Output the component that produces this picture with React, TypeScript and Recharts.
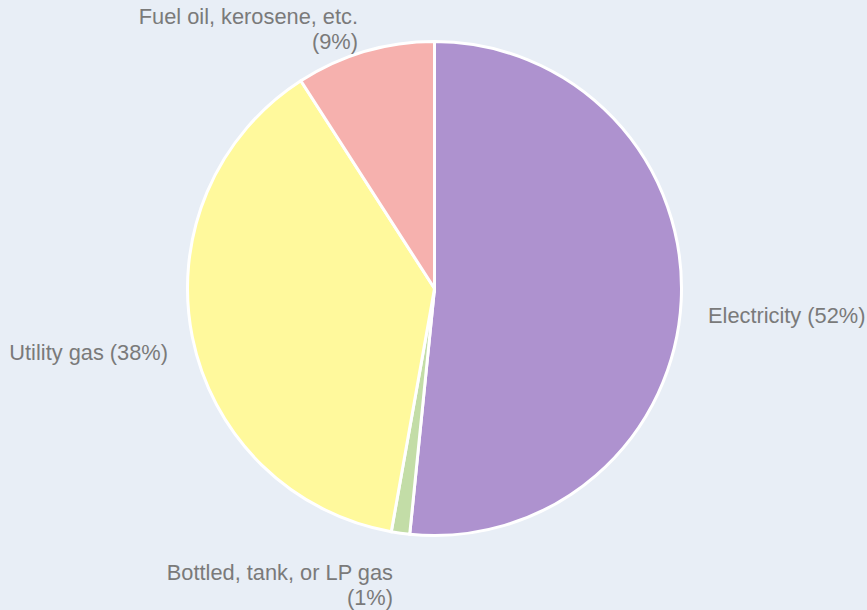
import React from 'react'
import { Cell, Pie, PieChart } from 'recharts'

// heating fuel shares, clockwise from 12 o'clock
const fuelNames = ['Electricity', 'Bottled, tank, or LP gas', 'Utility gas', 'Fuel oil, kerosene, etc.']
const fuelShares = [51.6, 1.2, 38.1, 9.1]
const fuelColors = ['#ae92cf', '#c3dda7', '#fff99c', '#f6b1ae']

// label lines as shown in the picture
const labelLines = [
  ['Electricity (52%)'],
  ['Bottled, tank, or LP gas', '(1%)'],
  ['Utility gas (38%)'],
  ['Fuel oil, kerosene, etc.', '(9%)'],
]

// label anchor, relative to pie center
const labelLayout = [
  { dx: 273.5, dy: 26.5, anchor: 'start' },
  { dx: -41.5, dy: 283, anchor: 'end' },
  { dx: -266.5, dy: 63.5, anchor: 'end' },
  { dx: -76.5, dy: -272.5, anchor: 'end' },
]

const data = fuelNames.map((name, i) => ({ name, value: fuelShares[i] }))

function renderLabel(props: any) {
  const { cx, cy, index } = props
  const layout = labelLayout[index]
  const lines = labelLines[index]
  return (
    <text
      x={cx + layout.dx}
      y={cy + layout.dy}
      textAnchor={layout.anchor}
      dominantBaseline="central"
      fill="#7a7a7a"
      fontSize={21.8}
      fontFamily="'Liberation Sans', Arial, sans-serif"
    >
      {lines.map((line, i) => (
        <tspan key={i} x={cx + layout.dx} dy={i === 0 ? 0 : 25}>
          {line}
        </tspan>
      ))}
    </text>
  )
}

export default function App() {
  return (
    <div style={{ position: 'fixed', left: 0, top: 0, width: 867, height: 610, background: '#e8eef6' }}>
      <PieChart width={867} height={610} margin={{ top: 0, right: 0, bottom: 0, left: 0 }}>
        <Pie
          data={data}
          dataKey="value"
          nameKey="name"
          cx={434.5}
          cy={288.5}
          outerRadius={247}
          startAngle={90}
          endAngle={-270}
          stroke="#ffffff"
          strokeWidth={3}
          labelLine={false}
          label={renderLabel}
          isAnimationActive={false}
        >
          {data.map((entry, i) => (
            <Cell key={entry.name} fill={fuelColors[i]} />
          ))}
        </Pie>
      </PieChart>
    </div>
  )
}
